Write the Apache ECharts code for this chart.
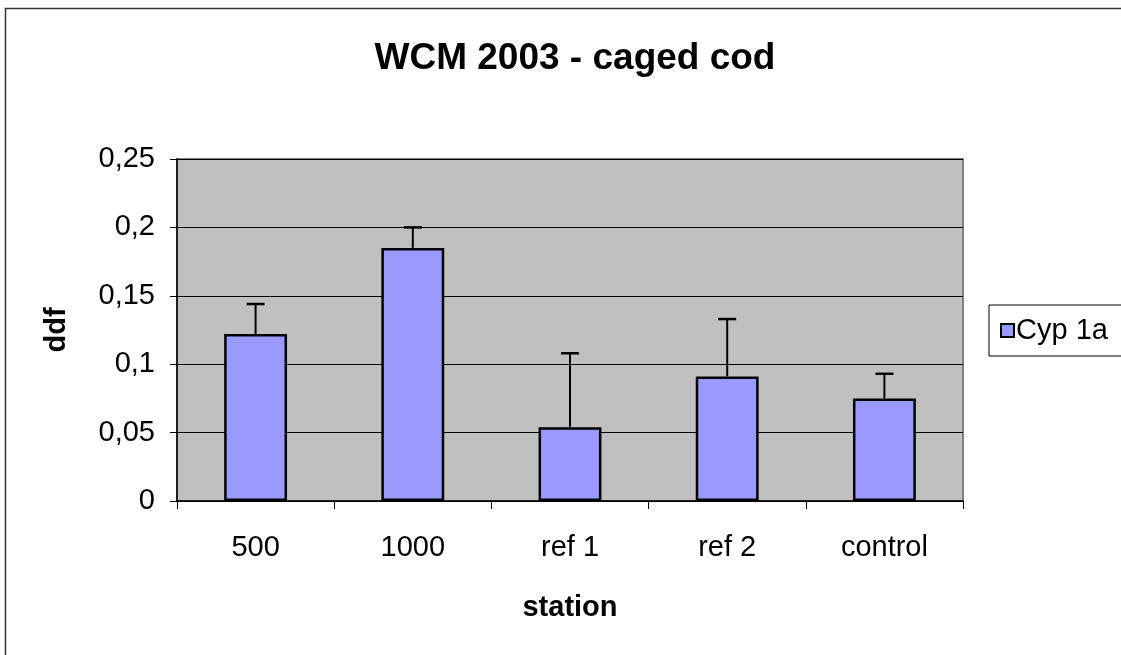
<!DOCTYPE html>
<html>
<head>
<meta charset="utf-8">
<title>WCM 2003 - caged cod</title>
<script src="https://cdn.jsdelivr.net/npm/echarts@6/dist/echarts.min.js"></script>
<style>
    html, body { margin: 0; padding: 0; background: #fff; }
    #chart { width: 1121px; height: 655px; }
</style>
</head>
<body>
<div id="chart"></div>
<script>
var categories = ['500', '1000', 'ref 1', 'ref 2', 'control'];
var cyp1a = [0.122, 0.185, 0.054, 0.091, 0.075];
var cyp1aErr = [0.022, 0.015, 0.054, 0.042, 0.018];
var yTicks = [0, 0.05, 0.1, 0.15, 0.2, 0.25];

var font = 'Liberation Sans, Arial, sans-serif';
var chart = echarts.init(document.getElementById('chart'));

// error bars: only the upper whisker, like the excel original
var errData = categories.map(function(c, i) {
    return [i, cyp1a[i], cyp1a[i] + cyp1aErr[i]];
});

var option = {
    animation: false,
    textStyle: { fontFamily: font, color: '#000' },
    title: {
        text: 'WCM 2003 - caged cod',
        left: 570,
        top: 35,
        textAlign: 'center',
        textStyle: { fontFamily: font, fontSize: 37, fontWeight: 'bold', color: '#000' }
    },
    graphic: [{
        type: 'rect',
        shape: { x: 5.5, y: 8.5, width: 1200, height: 800 },
        style: { fill: 'none', stroke: '#333', lineWidth: 1.5 },
        silent: true
    }],
    legend: {
        data: ['Cyp 1a'],
        left: 989,
        top: 305,
        orient: 'vertical',
        padding: [11, 40, 11, 11],
        borderColor: '#000',
        borderWidth: 1,
        itemWidth: 13,
        itemHeight: 13,
        itemGap: 5,
        icon: 'rect',
        textStyle: { fontFamily: font, fontSize: 29, color: '#000', padding: [0, 0, 0, -3] }
    },
    grid: {
        left: 177,
        right: 158,
        top: 159,
        bottom: 154,
        show: true,
        backgroundColor: '#c0c0c0',
        borderColor: '#808080',
        borderWidth: 2
    },
    xAxis: {
        type: 'category',
        data: categories,
        name: 'station',
        nameLocation: 'middle',
        nameGap: 92,
        nameTextStyle: { fontFamily: font, fontSize: 29, fontWeight: 'bold', color: '#000' },
        axisLine: { lineStyle: { color: '#000', width: 1.5 } },
        axisTick: { show: true, length: 8, lineStyle: { color: '#000' } },
        axisLabel: { fontFamily: font, fontSize: 29, color: '#000', margin: 32 }
    },
    yAxis: {
        type: 'value',
        min: 0,
        max: yTicks[yTicks.length - 1],
        interval: 0.05,
        name: 'ddf',
        nameLocation: 'middle',
        nameRotate: 90,
        nameGap: 106,
        nameTextStyle: { fontFamily: font, fontSize: 29, fontWeight: 'bold', color: '#000' },
        axisLine: { show: true, lineStyle: { color: '#000', width: 1.5 } },
        axisTick: { show: true, length: 7, lineStyle: { color: '#000' } },
        axisLabel: {
            fontFamily: font,
            fontSize: 29,
            color: '#000',
            margin: 22,
            formatter: function(v) {
                return String(+v.toFixed(2)).replace('.', ',');
            }
        },
        splitLine: { show: true, lineStyle: { color: '#000', width: 1 } }
    },
    series: [
        {
            name: 'Cyp 1a',
            type: 'bar',
            data: cyp1a,
            barWidth: '40%',
            itemStyle: { color: '#9999ff', borderColor: '#000', borderWidth: 2.5 },
            z: 3
        },
        {
            name: 'err',
            type: 'custom',
            data: errData,
            z: 2,
            renderItem: function(params, api) {
                var x = api.coord([api.value(0), api.value(1)]);
                var top = api.coord([api.value(0), api.value(2)]);
                var cap = 9;
                return {
                    type: 'group',
                    children: [{
                        type: 'line',
                        shape: { x1: x[0], y1: x[1], x2: top[0], y2: top[1] },
                        style: { stroke: '#000', lineWidth: 2 }
                    }, {
                        type: 'line',
                        shape: { x1: top[0] - cap, y1: top[1], x2: top[0] + cap, y2: top[1] },
                        style: { stroke: '#000', lineWidth: 2.5 }
                    }]
                };
            }
        }
    ]
};
chart.setOption(option);
</script>
</body>
</html>
